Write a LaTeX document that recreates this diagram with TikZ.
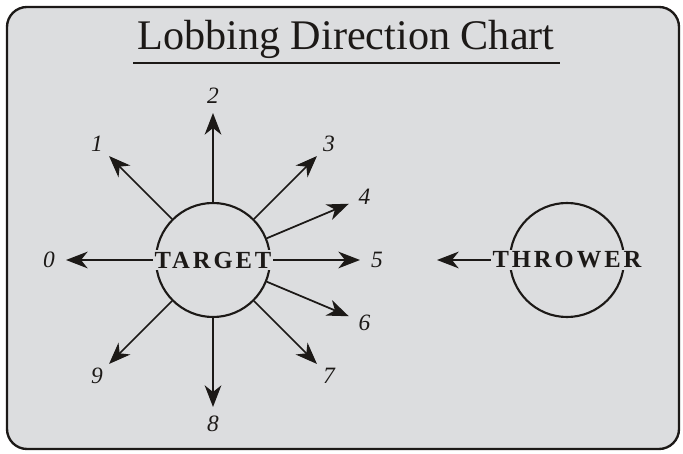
\documentclass[tikz,border=0pt]{standalone}
\usepackage{fontspec}
\setmainfont{Liberation Serif}
\newfontfamily\capsfont[LetterSpace=12]{Liberation Serif}
\usetikzlibrary{arrows.meta,calc}
\definecolor{chartgray}{RGB}{220,221,223}
\definecolor{inkblack}{RGB}{28,25,23}

\begin{document}
\begin{tikzpicture}[x=0.03cm, y=0.03cm,
    ball/.style={circle, draw=inkblack, line width=1.8pt, fill=chartgray, minimum size=3.42cm, inner sep=0pt},
    capslabel/.style={fill=chartgray, inner sep=1.5pt, text=inkblack, font=\capsfont\bfseries\fontsize{21}{23}\selectfont},
    dirnum/.style={font=\fontsize{20}{22}\selectfont\itshape, text=inkblack},
    lob/.style={draw=inkblack, line width=1.5pt, -{Stealth[length=6.5mm, width=5mm, inset=2mm]}}]
    \useasboundingbox (0,0) rectangle (683,453);

    % Draw the frame
    \draw[line width=2pt, draw=inkblack, fill=chartgray, rounded corners=0.6cm] (7,4) rectangle (679,446);

    % Title with its rule
    \node[anchor=base, text=inkblack, font=\fontsize{36}{40}\selectfont] (title) at (346,403) {Lobbing Direction Chart};
    \draw[line width=1pt, inkblack] (133,390) -- (560,390);

    % Target and thrower
    \node[ball] (target) at (213,193) {};
    \node[ball] (thrower) at (567,193) {};

    % Ten directions round the target
    \foreach \n/\a in {0/180, 1/135, 2/90, 3/45, 4/22.5, 5/0, 6/-22.5, 7/-45, 8/-90, 9/-135} {
        \coordinate (tip\n) at ($(target.center)+(\a:147)$);
        \node[dirnum] (num\n) at ($(target.center)+(\a:164)$) {\n};
        \draw[lob] (target.\a) -- (tip\n);
    }

    % Labels on top
    \node[capslabel] (targetname) at (target.center) {TARGET};
    \node[capslabel] (throwername) at (thrower.center) {THROWER};

    % Thrower lobs to the left
    \coordinate (throwtip) at (437,193);
    \draw[lob] (throwername.west) -- (throwtip);

\end{tikzpicture}
\end{document}
